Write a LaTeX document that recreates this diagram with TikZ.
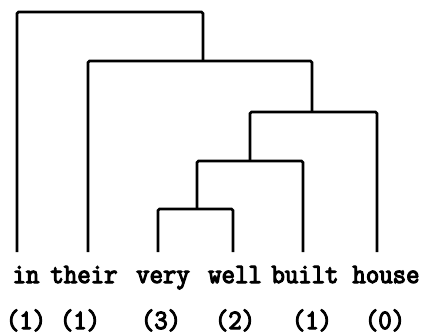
\documentclass[tikz,border=0pt]{standalone}
\usepackage{fontspec}
\newfontfamily\wordfont[FakeBold=4,FakeStretch=0.93]{Latin Modern Mono}
\begin{document}
\begin{tikzpicture}[x=1pt,y=-1pt,
  bracket/.style={line width=2.6pt,rounded corners=1.5pt},
  word/.style={anchor=base,inner sep=0pt,font=\wordfont\fontsize{28}{28}\selectfont},
  count/.style={anchor=base,inner sep=0pt,font=\wordfont\fontsize{28}{28}\selectfont}]
\useasboundingbox (0,0) rectangle (428,334);
% words
\node[word] (win)    at (26,283)  {in};
\node[word] (wtheir) at (84,283)  {their};
\node[word] (wvery)  at (163,283) {very};
\node[word] (wwell)  at (235,283) {well};
\node[word] (wbuilt) at (305,283) {built};
\node[word] (whouse) at (386,283) {house};
% counts
\node[count] (cin)    at (26,329)  {(1)};
\node[count] (ctheir) at (80,329)  {(1)};
\node[count] (cvery)  at (161,329) {(3)};
\node[count] (cwell)  at (235,329) {(2)};
\node[count] (cbuilt) at (312,329) {(1)};
\node[count] (chouse) at (385,329) {(0)};
% leaf tops
\coordinate (lin)    at (17,252);
\coordinate (ltheir) at (88,252);
\coordinate (lvery)  at (158,252);
\coordinate (lwell)  at (233,252);
\coordinate (lbuilt) at (303,252);
\coordinate (lhouse) at (377,252);
% junctions
\coordinate (ja) at (197,209);
\coordinate (jb) at (250,161);
\coordinate (jc) at (312,112);
\coordinate (jd) at (203,61);
\coordinate (je) at (110,12);
\draw[bracket] (lvery) |- (ja) -| (lwell);
\draw[bracket] (ja) |- (jb) -| (lbuilt);
\draw[bracket] (jb) |- (jc) -| (lhouse);
\draw[bracket] (ltheir) |- (jd) -| (jc);
\draw[bracket] (lin) |- (je) -| (jd);
\end{tikzpicture}
\end{document}
